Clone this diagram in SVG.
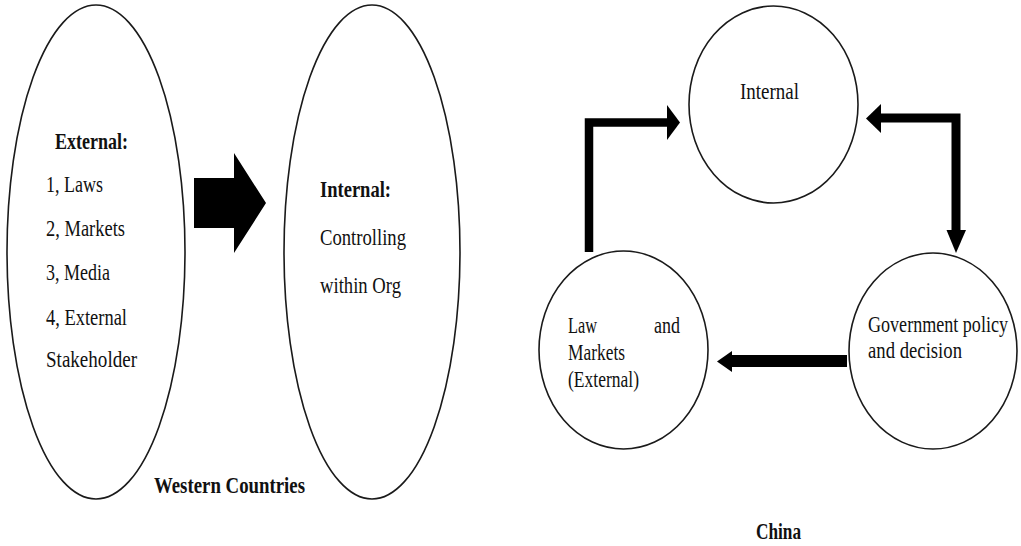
<svg xmlns="http://www.w3.org/2000/svg" width="1021" height="546" viewBox="0 0 1021 546">
  <style>
    .shape { fill: #ffffff; stroke: #1a1a1a; stroke-width: 1.6; }
    .lbl { font-family: "Liberation Serif", "Times New Roman", serif; font-size: 24px; fill: #111111; }
    .bold { font-weight: bold; }
    .bar { fill: none; stroke: #000000; stroke-linejoin: miter; stroke-linecap: butt; }
    .head { fill: #000000; stroke: none; }
  </style>
  <rect width="1021" height="546" fill="#ffffff"/>

  <!-- Western model: external ellipse -->
  <g id="external-west">
    <ellipse class="shape" cx="96" cy="252" rx="89" ry="247"/>
    <text class="lbl bold" x="55" y="149" textLength="73" lengthAdjust="spacingAndGlyphs">External:</text>
    <text class="lbl" x="46" y="192" textLength="57" lengthAdjust="spacingAndGlyphs">1, Laws</text>
    <text class="lbl" x="46" y="236" textLength="79" lengthAdjust="spacingAndGlyphs">2, Markets</text>
    <text class="lbl" x="46" y="280" textLength="64" lengthAdjust="spacingAndGlyphs">3, Media</text>
    <text class="lbl" x="46" y="325" textLength="81" lengthAdjust="spacingAndGlyphs">4, External</text>
    <text class="lbl" x="46" y="367" textLength="91" lengthAdjust="spacingAndGlyphs">Stakeholder</text>
  </g>

  <!-- Western model: internal ellipse -->
  <g id="internal-west">
    <ellipse class="shape" cx="372" cy="252" rx="88" ry="247"/>
    <text class="lbl bold" x="320" y="197" textLength="71" lengthAdjust="spacingAndGlyphs">Internal:</text>
    <text class="lbl" x="320" y="245" textLength="86" lengthAdjust="spacingAndGlyphs">Controlling</text>
    <text class="lbl" x="320" y="293" textLength="81" lengthAdjust="spacingAndGlyphs">within Org</text>
  </g>

  <!-- Chinese model: three circles -->
  <g id="internal-china">
    <ellipse class="shape" cx="773.5" cy="104.5" rx="84.5" ry="98.5"/>
    <text class="lbl" x="740" y="99" textLength="59" lengthAdjust="spacingAndGlyphs">Internal</text>
  </g>
  <g id="law-markets">
    <ellipse class="shape" cx="623.5" cy="350" rx="84.5" ry="99"/>
    <text class="lbl" x="568" y="333" textLength="29" lengthAdjust="spacingAndGlyphs">Law</text>
    <text class="lbl" x="654" y="333" textLength="26" lengthAdjust="spacingAndGlyphs">and</text>
    <text class="lbl" x="568" y="360" textLength="57" lengthAdjust="spacingAndGlyphs">Markets</text>
    <text class="lbl" x="568" y="387" textLength="71" lengthAdjust="spacingAndGlyphs">(External)</text>
  </g>
  <g id="government">
    <ellipse class="shape" cx="933" cy="351" rx="84" ry="98"/>
    <text class="lbl" x="868" y="332" textLength="140" lengthAdjust="spacingAndGlyphs">Government policy</text>
    <text class="lbl" x="868" y="358" textLength="94" lengthAdjust="spacingAndGlyphs">and decision</text>
  </g>

  <!-- Connectors -->
  <g id="connectors">
    <!-- block arrow between the ellipses -->
    <polygon class="head" points="194,178 234,178 234,153 266,203 234,253 234,228 194,228"/>
    <!-- law/markets up to internal -->
    <path class="bar" stroke-width="8.5" d="M589,252 V122.5 H667"/>
    <polygon class="head" points="667,105 680,122.5 667,140"/>
    <!-- internal to government, heads at both ends -->
    <path class="bar" stroke-width="9" d="M881,118 H956 V230"/>
    <polygon class="head" points="881,104 866,118.5 881,133"/>
    <polygon class="head" points="946.5,230 966,230 956,253"/>
    <!-- government to law/markets -->
    <path class="bar" stroke-width="12" d="M847,361 H731"/>
    <polygon class="head" points="732,351 717,361.5 732,372"/>
  </g>

  <!-- Captions -->
  <text class="lbl bold" x="154" y="493" textLength="151" lengthAdjust="spacingAndGlyphs">Western Countries</text>
  <text class="lbl bold" x="756" y="539" textLength="45" lengthAdjust="spacingAndGlyphs">China</text>
</svg>
